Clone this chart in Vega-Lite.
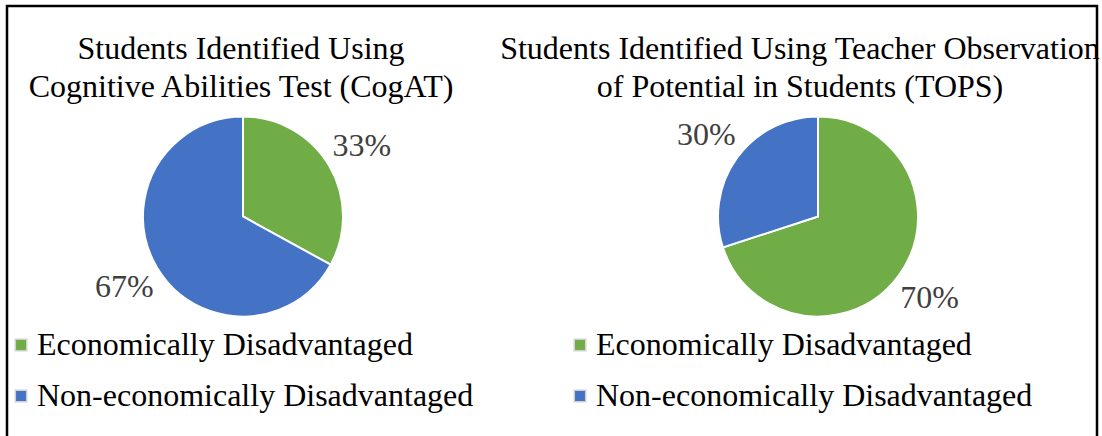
{
  "$schema": "https://vega.github.io/schema/vega-lite/v6.json",
  "width": 1102,
  "height": 436,
  "autosize": {"type": "fit", "contains": "padding"},
  "padding": {"left": 7, "top": 6, "right": 5, "bottom": -3},
  "background": "white",
  "config": {
    "view": {"stroke": "#000000", "strokeWidth": 2.5},
    "font": "Liberation Serif"
  },
  "datasets": {
    "pies": [
      {"chart": "CogAT", "category": "Economically Disadvantaged", "share": 0.33},
      {"chart": "CogAT", "category": "Non-economically Disadvantaged", "share": 0.67},
      {"chart": "TOPS", "category": "Economically Disadvantaged", "share": 0.70},
      {"chart": "TOPS", "category": "Non-economically Disadvantaged", "share": 0.30}
    ],
    "titles": [
      {"chart": "CogAT", "title": "Students Identified Using\nCognitive Abilities Test (CogAT)"},
      {"chart": "TOPS", "title": "Students Identified Using Teacher Observation\nof Potential in Students (TOPS)"}
    ],
    "legend": [
      {"chart": "CogAT", "category": "Economically Disadvantaged"},
      {"chart": "CogAT", "category": "Non-economically Disadvantaged"},
      {"chart": "TOPS", "category": "Economically Disadvantaged"},
      {"chart": "TOPS", "category": "Non-economically Disadvantaged"}
    ]
  },
  "resolve": {"scale": {"x": "independent", "y": "independent"}},
  "layer": [
    {
      "data": {"name": "pies"},
      "transform": [
        {"stack": "share", "groupby": ["chart"], "sort": [{"field": "category"}], "as": ["t0", "t1"]},
        {"calculate": "(datum.t0 + datum.t1) / 2", "as": "tmid"}
      ],
      "encoding": {
        "x": {"field": "chart", "type": "nominal", "sort": ["CogAT", "TOPS"], "scale": {"type": "point", "padding": 0.44783, "align": 0.45825}, "axis": null}
      },
      "layer": [
        {
          "mark": {"type": "arc", "outerRadius": 100, "stroke": "white", "strokeWidth": 2, "yOffset": -6},
          "encoding": {
            "theta": {"field": "t0", "type": "quantitative", "scale": {"domain": [0, 1]}},
            "theta2": {"field": "t1"},
            "color": {"field": "category", "type": "nominal", "scale": {"domain": ["Economically Disadvantaged", "Non-economically Disadvantaged"], "range": ["#70AD47", "#4472C4"]}, "legend": null}
          }
        },
        {
          "mark": {"type": "text", "radius": 138, "fontSize": 32, "color": "#404040", "yOffset": -6, "align": "center", "baseline": "middle"},
          "encoding": {
            "theta": {"field": "tmid", "type": "quantitative", "scale": {"domain": [0, 1]}},
            "text": {"field": "share", "type": "quantitative", "format": ".0%"}
          }
        }
      ]
    },
    {
      "layer": [
        {
          "data": {"name": "titles"},
          "mark": {"type": "text", "fontSize": 32, "color": "#000000", "align": "center", "baseline": "alphabetic", "lineBreak": "\n", "lineHeight": 38, "xOffset": 220, "dy": -164},
          "encoding": {
            "x": {"field": "chart", "type": "nominal", "sort": ["CogAT", "TOPS"], "scale": {"type": "point", "padding": 0.47496, "align": 0.02637}, "axis": null},
            "text": {"field": "title"}
          }
        },
        {
          "data": {"name": "legend"},
          "encoding": {
            "x": {"field": "chart", "type": "nominal", "sort": ["CogAT", "TOPS"], "scale": {"type": "point", "padding": 0.47496, "align": 0.02637}, "axis": null},
            "y": {"field": "category", "type": "nominal", "scale": {"type": "point", "padding": 0, "range": [339, 390]}, "axis": null}
          },
          "layer": [
            {
              "mark": {"type": "point", "shape": "square", "filled": true, "size": 130, "stroke": "#d0d0d0", "strokeWidth": 1.5, "opacity": 1},
              "encoding": {
                "color": {"field": "category", "type": "nominal", "legend": null}
              }
            },
            {
              "mark": {"type": "text", "fontSize": 32, "color": "#000000", "align": "left", "baseline": "middle", "xOffset": 16},
              "encoding": {"text": {"field": "category"}}
            }
          ]
        }
      ]
    }
  ]
}
